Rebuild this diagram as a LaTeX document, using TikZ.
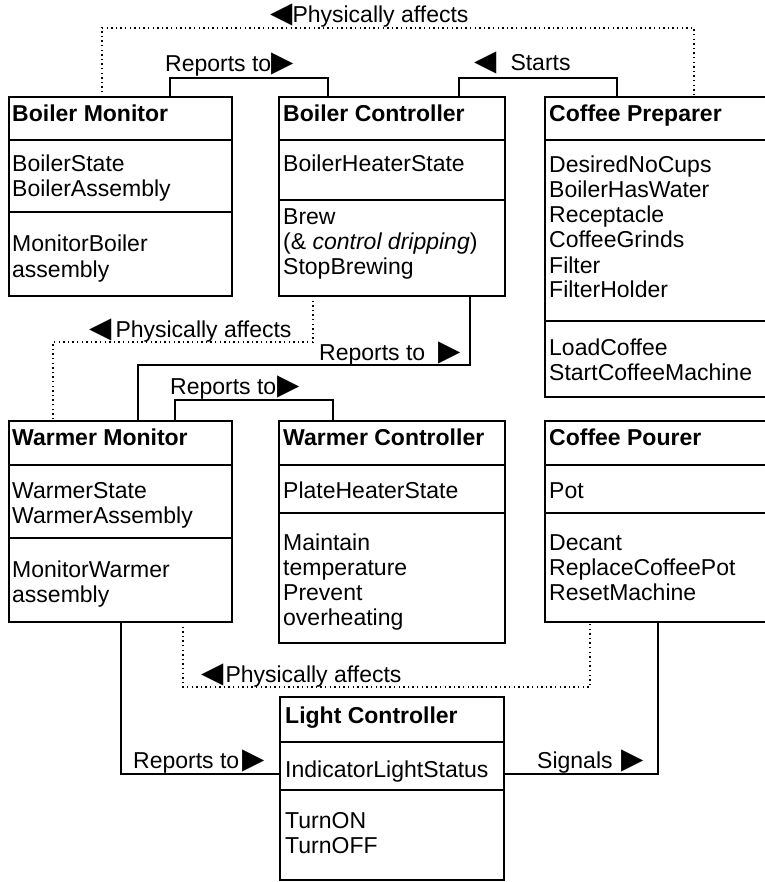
\documentclass[tikz,border=0pt]{standalone}
\usepackage{fontspec}
\setmainfont{Liberation Sans}
\newfontfamily\symf{DejaVu Sans}
\usetikzlibrary{calc}
\newcommand{\rtri}{{\symf\fontsize{29}{25}\selectfont ▶}}
\newcommand{\ltri}{{\symf\fontsize{29}{25}\selectfont ◀}}
% one class box: name, left x, top y, width, height
\newcommand{\umlbox}[5]{\node[box, minimum width=#4pt, minimum height=#5pt] (#1) at (#2,#3) {};}
% stacked member lines: name prefix, x, first baseline, list
\newcommand{\members}[4]{\foreach \t [count=\i from 0] in {#4} \node[txt] (#1\i) at (#2,{#3+25*\i}) {\t};}
% horizontal separator inside a box at height y
\newcommand{\sepline}[2]{\draw[divider] (#1.west |- 0,#2) -- (#1.east |- 0,#2);}

\begin{document}
\begin{tikzpicture}[x=1pt,y=-1pt,
  box/.style={draw, line width=2.8pt, anchor=north west, inner sep=0pt, outer sep=0pt},
  divider/.style={line width=1.4pt},
  txt/.style={anchor=base west, inner sep=0pt, font=\fontsize{23}{25}\selectfont},
  ttl/.style={txt, font=\fontsize{23}{25}\selectfont\bfseries},
  rel/.style={line width=2.8pt},
  phys/.style={line width=1.4pt, dash pattern=on 1.4pt off 3.2pt}]
\useasboundingbox (0,0) rectangle (764,882);

% ---- classes ----
\umlbox{bm}{9}{97}{223}{199}
\umlbox{bc}{279}{97}{226}{199}
\umlbox{cp}{545}{97}{225}{300}
\umlbox{wm}{9}{421}{223}{201}
\umlbox{wc}{279}{421}{226}{222}
\umlbox{cpo}{545}{421}{225}{201}
\umlbox{lc}{280}{697}{224}{183}

\sepline{bm}{140}\sepline{bm}{212}
\sepline{bc}{140}\sepline{bc}{200}
\sepline{cp}{140}\sepline{cp}{321}
\sepline{wm}{465}\sepline{wm}{538}
\sepline{wc}{465}\sepline{wc}{513}
\sepline{cpo}{465}\sepline{cpo}{513}
\sepline{lc}{742}\sepline{lc}{790}

\node[ttl] (bmt) at (12,122) {Boiler Monitor};
\members{bma}{12}{172}{BoilerState,BoilerAssembly}
\members{bmo}{12}{252}{MonitorBoiler,assembly}

\node[ttl] (bct) at (283,122) {Boiler Controller};
\members{bca}{283}{172}{BoilerHeaterState}
\members{bco}{283}{225}{Brew,{(\& \textit{control dripping})},StopBrewing}

\node[ttl] (cpt) at (549,122) {Coffee Preparer};
\members{cpa}{549}{173}{DesiredNoCups,BoilerHasWater,Receptacle,CoffeeGrinds,Filter,FilterHolder}
\members{cpop}{549}{355}{LoadCoffee,StartCoffeeMachine}

\node[ttl] (wmt) at (12,445) {Warmer Monitor};
\members{wma}{12}{498}{WarmerState,WarmerAssembly}
\members{wmo}{12}{577}{MonitorWarmer,assembly}

\node[ttl] (wct) at (283,445) {Warmer Controller};
\members{wca}{283}{498}{PlateHeaterState}
\members{wco}{283}{550}{Maintain,temperature,Prevent,overheating}

\node[ttl] (cpot) at (549,445) {Coffee Pourer};
\members{cpoa}{549}{498}{Pot}
\members{cpoo}{549}{550}{Decant,ReplaceCoffeePot,ResetMachine}

\node[ttl] (lct) at (285,723) {Light Controller};
\members{lca}{285}{777}{IndicatorLightStatus}
\members{lco}{285}{828}{TurnON,TurnOFF}

% ---- relationships ----
\draw[phys] ($(bm.north west)+(93,0)$) -- ++(0,-69) -| ($(cp.north west)+(149,0)$);
\node[txt] (l1) at (270,23) {\ltri\hspace{0pt}Physically affects};

\draw[rel] ($(bm.north west)+(161,0)$) -- ++(0,-19) -| ($(bc.north west)+(49,0)$);
\node[txt] (l2) at (165,72) {Reports to\hspace{0pt}\rtri};

\draw[rel] ($(bc.north west)+(180,0)$) -- ++(0,-19) -| ($(cp.north west)+(72,0)$);
\node[txt] (l3) at (474,71) {\ltri\hspace{14pt}Starts};

\draw[phys] ($(bc.south west)+(34,0)$) -- ++(0,46) -| ($(wm.north west)+(44,0)$);
\node[txt] (l4) at (89,337) {\ltri\hspace{4pt}Physically affects};

\draw[rel] ($(bc.south west)+(191,0)$) -- ++(0,69) -| ($(wm.north west)+(129,0)$);
\node[txt] (l5) at (319,360) {Reports to\hspace{13pt}\rtri};

\draw[rel] ($(wm.north west)+(166,0)$) -- ++(0,-21) -| ($(wc.north west)+(54,0)$);
\node[txt] (l6) at (170,394) {Reports to\hspace{1pt}\rtri};

\draw[phys] ($(wm.south west)+(174,0)$) -- ++(0,65) -| ($(cpo.south west)+(45,0)$);
\node[txt] (l7) at (201,682) {\ltri\hspace{2pt}Physically affects};

\draw[rel] ($(wm.south west)+(112,0)$) |- (lc.west |- 0,774);
\node[txt] (l8) at (133,768) {Reports to\hspace{3pt}\rtri};

\draw[rel] (lc.east |- 0,774) -| ($(cpo.south west)+(113,0)$);
\node[txt] (l9) at (537,768) {Signals\hspace{9pt}\rtri};
\end{tikzpicture}
\end{document}
